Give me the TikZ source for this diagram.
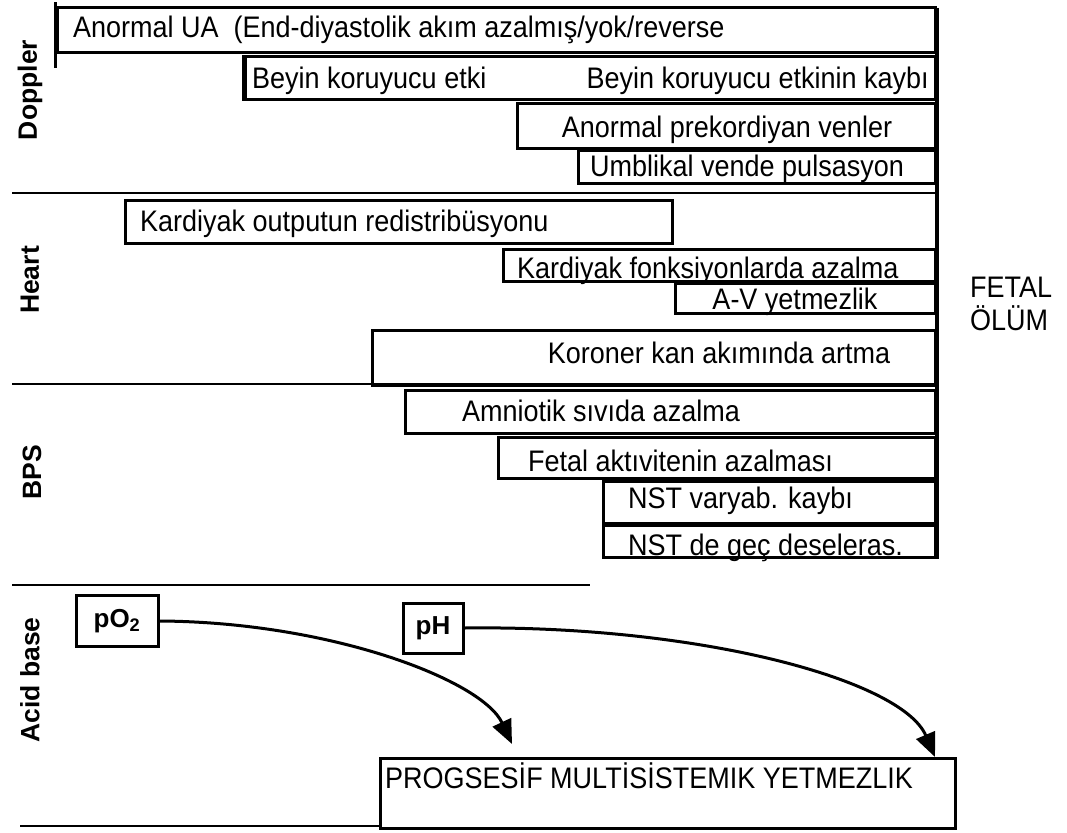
\documentclass[tikz,border=0pt]{standalone}
\usepackage{fontspec}
\usepackage{graphicx}
\setmainfont{Liberation Sans}
\usetikzlibrary{arrows.meta,fit}
\newcommand\tallt[1]{\scalebox{1}[1.1]{#1}}
\begin{document}
\begin{tikzpicture}[x=1pt,y=-1pt,
  bx/.style={draw, line width=3pt, inner sep=0pt},
  txt/.style={inner sep=0pt, anchor=base west, font=\fontsize{27}{31}\selectfont},
  txtc/.style={txt, anchor=base},
  txte/.style={txt, anchor=base east},
  side/.style={inner sep=0pt, rotate=90, font=\bfseries\fontsize{26.5}{30}\selectfont},
  sep/.style={line width=2.6pt},
  small/.style={draw, line width=3pt, inner sep=0pt, font=\bfseries\fontsize{26}{30}\selectfont},
  arr/.style={line width=3pt, -{Triangle[length=24pt,width=20pt]}}]
\useasboundingbox (0,0) rectangle (1067,832);
% side labels
\node[side] (lDop) at (30,90) {Doppler};
\node[side] (lHeart) at (30,280) {Heart};
\node[side] (lBPS) at (32,472) {BPS};
\node[side] (lAcid) at (30,680) {Acid base};
% separators
\coordinate (s1a) at (12,193); \coordinate (s1b) at (935,193);
\coordinate (s2a) at (12,384); \coordinate (s2b) at (935,384);
\coordinate (s3a) at (12,585); \coordinate (s3b) at (590,585);
\coordinate (s4a) at (20,826); \coordinate (s4b) at (380,826);
\draw[sep] (s1a) -- (s1b);
\draw[sep] (s2a) -- (s2b);
\draw[sep] (s3a) -- (s3b);
\draw[sep] (s4a) -- (s4b);
% Doppler boxes
\node[bx, fit={(57,8) (935,53)}] (b1) {};
\draw[line width=3.4pt] (b1.north west) ++(0,-4) -- ++(0,66);
\node[txt] (t1) at (73,38) {\tallt{Anormal UA\ \ (End-diyastolik akım azalmış/yok/reverse}};
\node[bx, fit={(245,57) (935,100)}] (b2) {};
\draw[line width=3.4pt] (b2.north west) -- ++(0,46);
\node[txt] (t2a) at (252,89) {\tallt{Beyin koruyucu etki}};
\node[txte] (t2b) at (929,89) {\tallt{Beyin koruyucu etkinin kaybı}};
\node[bx, fit={(517,104) (935,148)}] (b3) {};
\node[txtc] (t3) at (727,137) {\tallt{Anormal prekordiyan venler}};
\node[bx, fit={(578,150) (935,183)}] (b4) {};
\node[txt] (t4) at (590,176) {\tallt{Umblikal vende pulsasyon}};
% Heart boxes
\node[bx, fit={(125,200) (672,243)}] (b5) {};
\node[txt] (t5) at (140,231) {\tallt{Kardiyak outputun redistribüsyonu}};
\node[bx, fit={(503,249) (935,281)}] (b6) {};
\node[txt] (t6) at (517,278) {\tallt{Kardiyak fonksiyonlarda azalma}};
\node[bx, fit={(675,283) (935,313)}] (b7) {};
\node[txtc] (t7) at (795,309) {\tallt{A-V yetmezlik}};
\node[bx, fit={(372,330) (935,385)}] (b8) {};
\node[txtc] (t8) at (719,363) {\tallt{Koroner kan akımında artma}};
% BPS boxes
\node[bx, fit={(405,390) (935,433)}] (b9) {};
\node[txt] (t9) at (462,421) {\tallt{Amniotik sıvıda azalma}};
\node[bx, fit={(498,437) (935,478)}] (b10) {};
\node[txt] (t10) at (528,471) {\tallt{Fetal aktıvitenin azalması}};
\node[bx, fit={(603,481) (935,523)}] (b11) {};
\node[txt] (t11) at (628,508) {\tallt{NST varyab. kaybı}};
\node[bx, fit={(603,525) (935,557)}] (b12) {};
\node[txt] (t12) at (628,555) {\tallt{NST de geç deseleras.}};
% main vertical line
\coordinate (va) at (937,8); \coordinate (vb) at (937,559);
\draw[line width=4.5pt] (va) -- (vb);
% fetal death
\node[txt] (f1) at (970,297) {\tallt{FETAL}};
\node[txt] (f2) at (970,330) {\tallt{ÖLÜM}};
% acid base
\node[small, minimum width=82pt, minimum height=51pt] (po2) at (117,621) {pO\textsubscript{2}};
\node[small, minimum width=60pt, minimum height=50pt] (ph) at (433,628) {pH};
\node[bx, fit={(380,758) (955,828)}] (prog) {};
\node[txt] (tp) at (385,788) {\tallt{PROGSESİF MULTİSİSTEMIK YETMEZLIK}};
\coordinate (e1) at (512,744);
\coordinate (e2) at (935,757);
\draw[arr] (po2.east) .. controls (330,622) and (482,680) .. (e1);
\draw[arr] (ph.east) .. controls (700,625) and (902,680) .. (e2);
\end{tikzpicture}
\end{document}
